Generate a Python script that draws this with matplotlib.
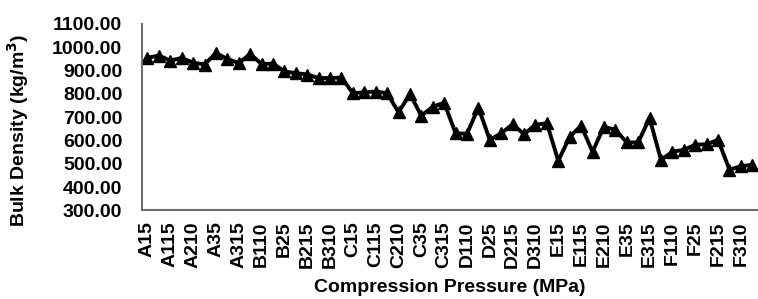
import matplotlib
matplotlib.use("Agg")
import matplotlib.pyplot as plt

letters = ["A", "B", "C", "D", "E", "F"]
suffixes = ["15", "110", "115", "25", "210", "215", "35", "310", "315"]
categories = [l + s for l in letters for s in suffixes]

bulk_density = [
    955, 964, 943, 954, 934, 926, 975, 950, 932,   # A
    971, 928, 930, 896, 889, 883, 868, 868, 870,   # B
    803, 807, 810, 803, 721, 799, 706, 745, 762,   # C
    631, 629, 741, 603, 631, 670, 627, 668, 674,   # D
    513, 616, 664, 552, 659, 646, 592, 592, 696,   # E
    517, 552, 560, 582, 584, 603, 475, 490, 496,   # F
]

y_ticks = [300, 400, 500, 600, 700, 800, 900, 1000, 1100]

plt.rcParams["font.family"] = ["Liberation Sans", "DejaVu Sans"]
plt.rcParams["font.weight"] = "bold"

fig = plt.figure(figsize=(7.58, 2.99), dpi=100)
ax = fig.add_axes([0.187, 0.296, 0.813, 0.624])

x = list(range(len(categories)))
ax.plot(x, bulk_density, color="black", linewidth=2.8, marker="^",
        markersize=8.5, markerfacecolor="black", markeredgecolor="black",
        clip_on=False)

ax.set_xlim(-0.5, len(categories) - 0.5)
ax.set_ylim(300, 1100)
ax.set_yticks(y_ticks)
ax.set_yticklabels([f"{v:.2f}" for v in y_ticks], fontsize=14, fontweight="bold")
ax.set_xticks(x[::2])
ax.set_xticklabels(categories[::2], rotation=90, fontsize=14, fontweight="bold")

ax.tick_params(axis="y", length=0, pad=14)
ax.tick_params(axis="x", length=0, pad=8)

for side in ["top", "right"]:
    ax.spines[side].set_visible(False)
for side in ["left", "bottom"]:
    ax.spines[side].set_color("#6e6e6e")
    ax.spines[side].set_linewidth(1.5)

ax.set_ylabel("Bulk Density (kg/m$^\\mathbf{3}$)", fontsize=14, fontweight="bold")
ax.yaxis.set_label_coords(-0.18, 0.43)
ax.set_xlabel("Compression Pressure (MPa)", fontsize=14, fontweight="bold")
ax.xaxis.set_label_coords(0.5, -0.365)

fig.savefig("out.png", dpi=100)
